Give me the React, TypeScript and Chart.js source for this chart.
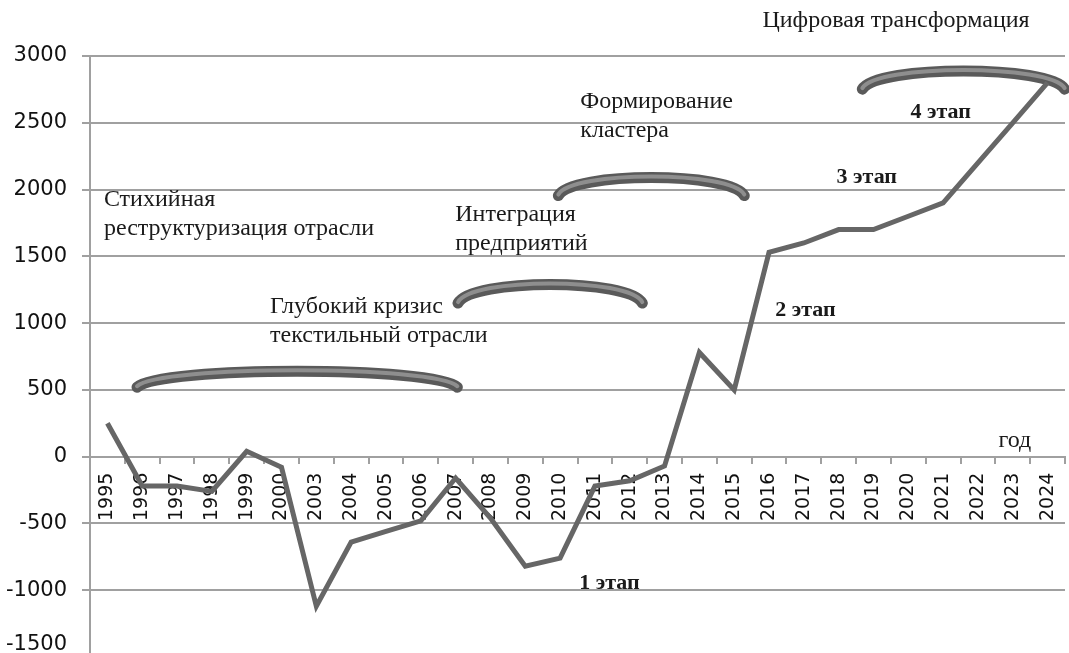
import React, { useEffect, useRef } from 'react';
import { Chart, registerables } from 'chart.js';

Chart.register(...registerables);

const years = ['1995', '1996', '1997', '1998', '1999', '2000', '2003', '2004', '2005', '2006', '2007', '2008', '2009', '2010', '2011', '2012', '2013', '2014', '2015', '2016', '2017', '2018', '2019', '2020', '2021', '2022', '2023', '2024'];
const values = [250, -220, -220, -260, 40, -80, -1120, -640, -560, -480, -160, -460, -820, -760, -220, -180, -70, 780, 500, 1530, 1600, 1700, 1700, 1800, 1900, 2200, 2500, 2800];
const yMin = -1500;
const yMax = 3000;
const yStep = 500;

// stage brackets: x in category index units, y in data units
const stageArcs = [
  { x0: 0.85, x1: 10.05, yEnd: 520, yTop: 640 },
  { x0: 10.07, x1: 15.36, yEnd: 1150, yTop: 1290 },
  { x0: 12.95, x1: 18.29, yEnd: 1955, yTop: 2090 },
  { x0: 21.68, x1: 27.49, yEnd: 2752, yTop: 2888 },
];

const phaseTexts = [
  { lines: ['Цифровая трансформация'], x: 18.81, y: 3264 },
  { lines: ['Формирование', 'кластера'], x: 13.58, y: 2655 },
  { lines: ['Стихийная', 'реструктуризация отрасли'], x: -0.1, y: 1925 },
  { lines: ['Интеграция', 'предприятий'], x: 9.99, y: 1812 },
  { lines: ['Глубокий кризис', 'текстильный отрасли'], x: 4.67, y: 1120 },
  { lines: ['год'], x: 25.59, y: 120 },
];

const stageTexts = [
  { text: '4 этап', x: 23.06, y: 2580 },
  { text: '3 этап', x: 20.94, y: 2090 },
  { text: '2 этап', x: 19.18, y: 1098 },
  { text: '1 этап', x: 13.55, y: -948 },
];

const annotationPlugin = {
  id: 'stageAnnotations',
  beforeDatasetsDraw(chart: any) {
    const ctx = chart.ctx;
    const xs = chart.scales.x;
    const ys = chart.scales.y;
    ctx.save();
    for (const a of stageArcs) {
      const x0 = xs.getPixelForValue(a.x0);
      const x1 = xs.getPixelForValue(a.x1);
      const yE = ys.getPixelForValue(a.yEnd);
      const yA = ys.getPixelForValue(a.yTop);
      const w = x1 - x0;
      const yc = yE - (yE - yA) / 0.75;
      const path = (dy: number) => {
        ctx.beginPath();
        ctx.moveTo(x0, yE + dy);
        ctx.bezierCurveTo(x0 + 0.07 * w, yc + dy, x1 - 0.07 * w, yc + dy, x1, yE + dy);
      };
      ctx.lineCap = 'round';
      path(0);
      ctx.strokeStyle = '#5a5a5a';
      ctx.lineWidth = 11;
      ctx.stroke();
      path(-1);
      ctx.strokeStyle = '#8e8e8e';
      ctx.lineWidth = 4;
      ctx.stroke();
    }
    ctx.restore();
  },
  afterDatasetsDraw(chart: any) {
    const ctx = chart.ctx;
    const xs = chart.scales.x;
    const ys = chart.scales.y;
    ctx.save();
    ctx.fillStyle = '#1a1a1a';
    ctx.textBaseline = 'middle';
    ctx.textAlign = 'left';
    ctx.font = '24px "Liberation Serif", "Times New Roman", serif';
    for (const t of phaseTexts) {
      const px = xs.getPixelForValue(t.x);
      const py = ys.getPixelForValue(t.y);
      t.lines.forEach((ln, i) => ctx.fillText(ln, px, py + i * 29));
    }
    ctx.font = 'bold 22px "Liberation Serif", "Times New Roman", serif';
    for (const t of stageTexts) {
      ctx.fillText(t.text, xs.getPixelForValue(t.x), ys.getPixelForValue(t.y));
    }
    ctx.restore();
  },
};

export default function App() {
  const ref = useRef<HTMLCanvasElement>(null);
  useEffect(() => {
    if (!ref.current) return;
    const gridColor = '#a0a0a0';
    const chart = new Chart(ref.current, {
      type: 'line',
      data: {
        labels: years,
        datasets: [
          {
            data: values,
            borderColor: '#666666',
            borderWidth: 5,
            pointRadius: 0,
            tension: 0,
            fill: false,
          },
        ],
      },
      options: {
        animation: false,
        responsive: false,
        maintainAspectRatio: false,
        layout: { padding: { top: 56, bottom: 30, left: 0, right: 4 } },
        plugins: { legend: { display: false }, tooltip: { enabled: false }, title: { display: false } },
        scales: {
          x: {
            type: 'category',
            position: { y: 0 },
            offset: true,
            afterFit: (s: any) => { s.paddingLeft = 0; s.paddingRight = 0; s.paddingTop = 0; s.paddingBottom = 0; },
            grid: { display: true, drawOnChartArea: false, drawTicks: true, tickLength: 6, offset: true, color: gridColor, lineWidth: 2 },
            border: { display: true, color: gridColor, width: 2 },
            ticks: {
              autoSkip: false,
              maxRotation: 90,
              minRotation: 90,
              padding: 10,
              color: '#111111',
              font: { family: '"DejaVu Sans", sans-serif', size: 19 },
            },
          },
          y: {
            type: 'linear',
            min: yMin,
            max: yMax,
            afterFit: (s: any) => { s.width = 90; s.paddingTop = 0; s.paddingBottom = 0; },
            grid: { color: gridColor, lineWidth: 2, tickLength: 8, drawTicks: true },
            border: { display: true, color: gridColor, width: 2 },
            ticks: {
              stepSize: yStep,
              padding: 15,
              color: '#111111',
              font: { family: '"DejaVu Sans", sans-serif', size: 21 },
              callback: (v: any) => (Number(v) === yMin ? [String(v), ''] : String(v)),
            },
          },
        },
      },
      plugins: [annotationPlugin],
    });
    return () => chart.destroy();
  }, []);
  return (
    <div style={{ position: 'fixed', left: 0, top: 0, width: 1069, height: 653, overflow: 'hidden', background: '#fff' }}>
      <canvas ref={ref} width={1069} height={687} />
    </div>
  );
}
